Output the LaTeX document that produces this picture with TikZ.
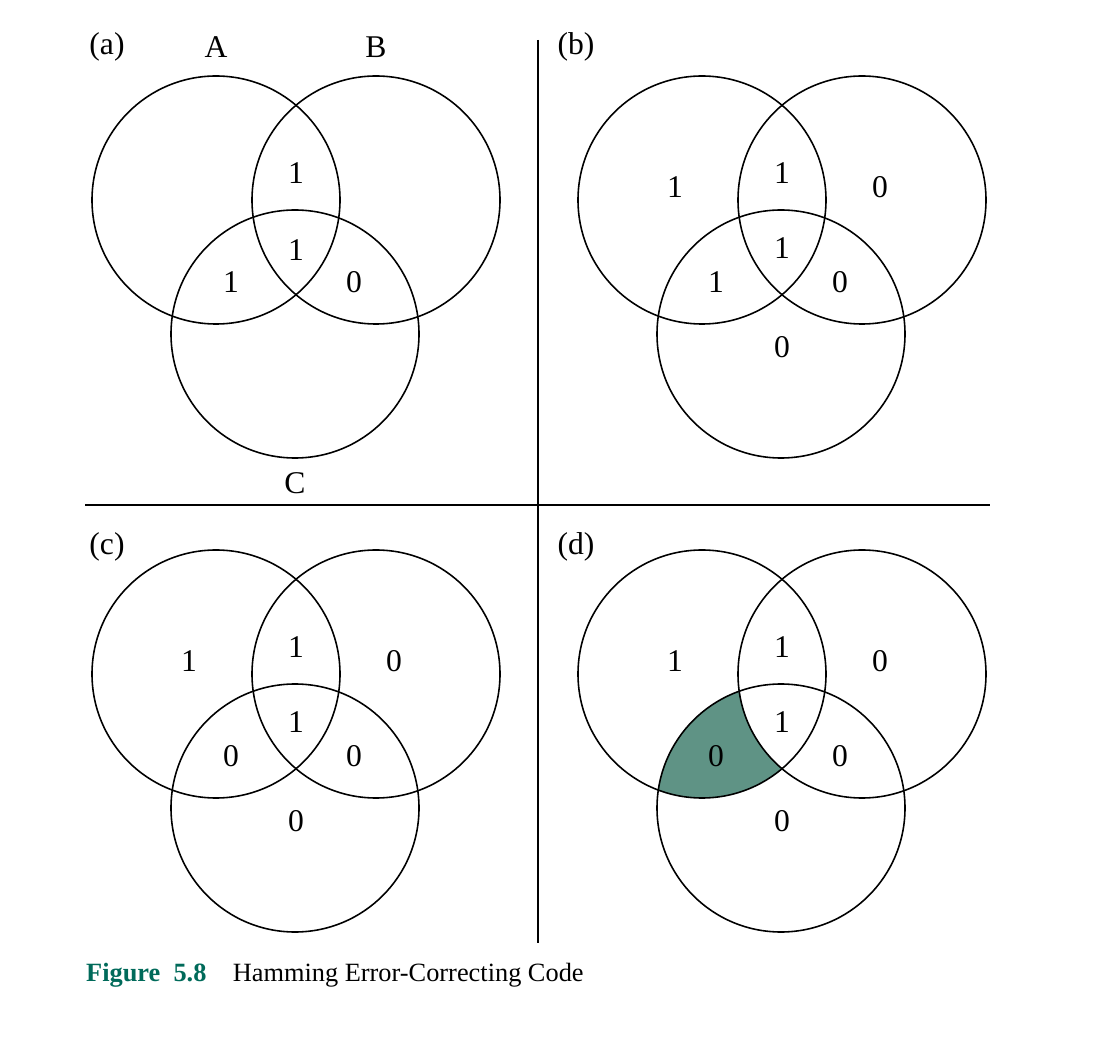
\documentclass[tikz,border=0pt]{standalone}
\usepackage{fontspec}
\setmainfont{Liberation Serif}
\definecolor{errfill}{HTML}{5F9385}
\definecolor{capgreen}{HTML}{006A5A}
\tikzset{
	bit/.style={font=\fontsize{18}{20}\selectfont},
	ring/.style={line width=0.9pt},
}
\begin{document}
\begin{tikzpicture}[x=0.02cm, y=-0.02cm]
	\useasboundingbox (0,0) rectangle (1106,1050);
	% shaded error region in (d)
	\begin{scope}[shift={(486,474)}]
		\clip (216,200) circle (124);
		\clip (295,334) circle (124);
		\fill[errfill] (0,0) rectangle (600,600);
		\fill[white] (376,200) circle (124);
	\end{scope}
	% the four Venn diagrams
	\foreach \dx/\dy in {0/0, 486/0, 0/474, 486/474}
	{
		\begin{scope}[shift={(\dx,\dy)}]
			\draw[ring] (216,200) circle (124);
			\draw[ring] (376,200) circle (124);
			\draw[ring] (295,334) circle (124);
		\end{scope}
	}
	% separators
	\draw[line width=0.9pt] (538,40) -- (538,943);
	\draw[line width=0.9pt] (85,505) -- (990,505);
	% panel (a)
	\node[bit] (la) at (107,47) {(a)};
	\node[bit] (setA) at (216,47) {A};
	\node[bit] (setB) at (376,47) {B};
	\node[bit] (setC) at (295,483) {C};
	\node[bit] (aab) at (296,173) {1};
	\node[bit] (aabc) at (296,250) {1};
	\node[bit] (aac) at (231,282) {1};
	\node[bit] (abc) at (354,282) {0};
	% panel (b)
	\node[bit] (lb) at (576,47) {(b)};
	\node[bit] (ba) at (675,187) {1};
	\node[bit] (bab) at (782,173) {1};
	\node[bit] (bb) at (880,187) {0};
	\node[bit] (babc) at (782,248) {1};
	\node[bit] (bac) at (716,282) {1};
	\node[bit] (bbc) at (840,282) {0};
	\node[bit] (bc) at (782,347) {0};
	% panel (c)
	\node[bit] (lc) at (107,547) {(c)};
	\node[bit] (ca) at (189,661) {1};
	\node[bit] (cab) at (296,647) {1};
	\node[bit] (cb) at (394,661) {0};
	\node[bit] (cabc) at (296,722) {1};
	\node[bit] (cac) at (231,756) {0};
	\node[bit] (cbc) at (354,756) {0};
	\node[bit] (cc) at (296,821) {0};
	% panel (d)
	\node[bit] (ld) at (576,547) {(d)};
	\node[bit] (da) at (675,661) {1};
	\node[bit] (dab) at (782,647) {1};
	\node[bit] (db) at (880,661) {0};
	\node[bit] (dabc) at (782,722) {1};
	\node[bit] (dac) at (716,756) {0};
	\node[bit] (dbc) at (840,756) {0};
	\node[bit] (dc) at (782,821) {0};
	% caption
	\node[anchor=west, font=\fontsize{15}{17}\selectfont] (cap) at (80,975)
		{\textcolor{capgreen}{\textbf{Figure\ \ 5.8}}\quad Hamming Error-Correcting Code};
\end{tikzpicture}
\end{document}
